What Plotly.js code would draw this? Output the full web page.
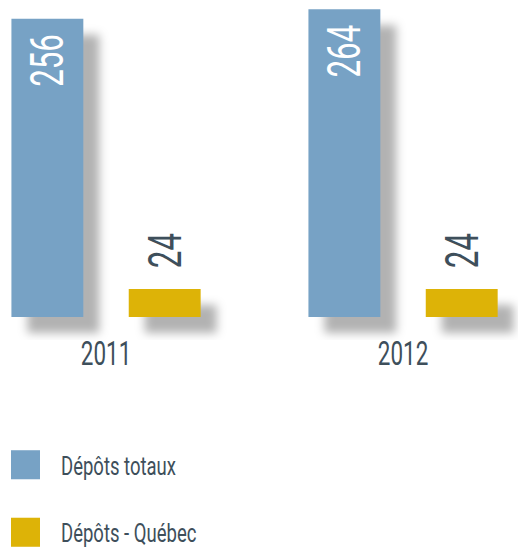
<!DOCTYPE html>
<html>
<head>
<meta charset="utf-8">
<script src="https://cdn.plot.ly/plotly-3.0.1.min.js"></script>
<style>
  html, body { margin: 0; padding: 0; background: #fff; }
  #chart { width: 518px; height: 550px; }
  .bars .point path { filter: drop-shadow(16px 16px 5px rgba(0,0,0,0.30)); }
</style>
</head>
<body>
<div id="chart"></div>
<script>
const years = ['2011', '2012'];
const depotsTotaux = [256, 264];
const depotsQuebec = [24, 24];
const seriesNames = ['Dépôts totaux', 'Dépôts - Québec'];
const colors = ['#77A2C5', '#DDB307'];
const textColor = '#3E4F5B';
const FONT = 'Roboto, "Noto Sans", "DejaVu Sans", sans-serif';
const CONDENSE = 0.68;
const LEGEND_CONDENSE = 0.74;
const NB = '\u00a0';

const traces = [
  {
    type: 'bar', name: seriesNames[0], x: years, y: depotsTotaux,
    marker: { color: colors[0] },
    text: depotsTotaux.map(v => String(v)),
    textposition: 'inside', insidetextanchor: 'end', textangle: -90,
    insidetextfont: { family: FONT, size: 46, color: '#ffffff' },
    constraintext: 'none', cliponaxis: false, legendgroup: 'a', hoverinfo: 'none'
  },
  {
    type: 'bar', name: seriesNames[1], x: years, y: depotsQuebec,
    marker: { color: colors[1] },
    text: depotsQuebec.map(v => NB + String(v)),
    textposition: 'outside', textangle: -90,
    outsidetextfont: { family: FONT, size: 46, color: textColor },
    constraintext: 'none', cliponaxis: false, legendgroup: 'b', hoverinfo: 'none'
  }
];

const layout = {
  width: 518, height: 550,
  margin: { l: 0, r: 0, t: 0, b: 210, pad: 0, autoexpand: false },
  paper_bgcolor: '#ffffff', plot_bgcolor: '#ffffff',
  barmode: 'group', bargap: 0.21, bargroupgap: 0.387,
  font: { family: FONT, color: textColor },
  xaxis: {
    type: 'category', range: [-0.357, 1.387],
    showgrid: false, zeroline: false, showline: false, ticks: '',
    tickfont: { family: FONT, size: 33, color: textColor },
    ticklabelstandoff: -9, fixedrange: true
  },
  yaxis: {
    range: [-19.7, 272], visible: false, showgrid: false, zeroline: false, fixedrange: true
  },
  showlegend: true,
  legend: {
    orientation: 'v', x: 0, xanchor: 'left', y: -0.30, yanchor: 'top',
    font: { family: FONT, size: 25, color: textColor },
    tracegroupgap: 32, itemwidth: 51, bgcolor: 'rgba(0,0,0,0)'
  }
};

Plotly.newPlot('chart', traces, layout, { displayModeBar: false, staticPlot: true }).then(gd => {
  gd.querySelectorAll('svg text').forEach(t => {
    const L = t.getComputedTextLength();
    if (L > 0) {
      const f = t.closest('.legend') ? LEGEND_CONDENSE : CONDENSE;
      t.setAttribute('textLength', (L * f).toFixed(2));
      t.setAttribute('lengthAdjust', 'spacingAndGlyphs');
    }
  });
  gd.querySelectorAll('.legend .legendpoints path').forEach(p => {
    const tr = p.getAttribute('transform') || '';
    p.setAttribute('transform', tr + ' translate(-5,0) scale(2.42)');
  });
});
</script>
</body>
</html>
